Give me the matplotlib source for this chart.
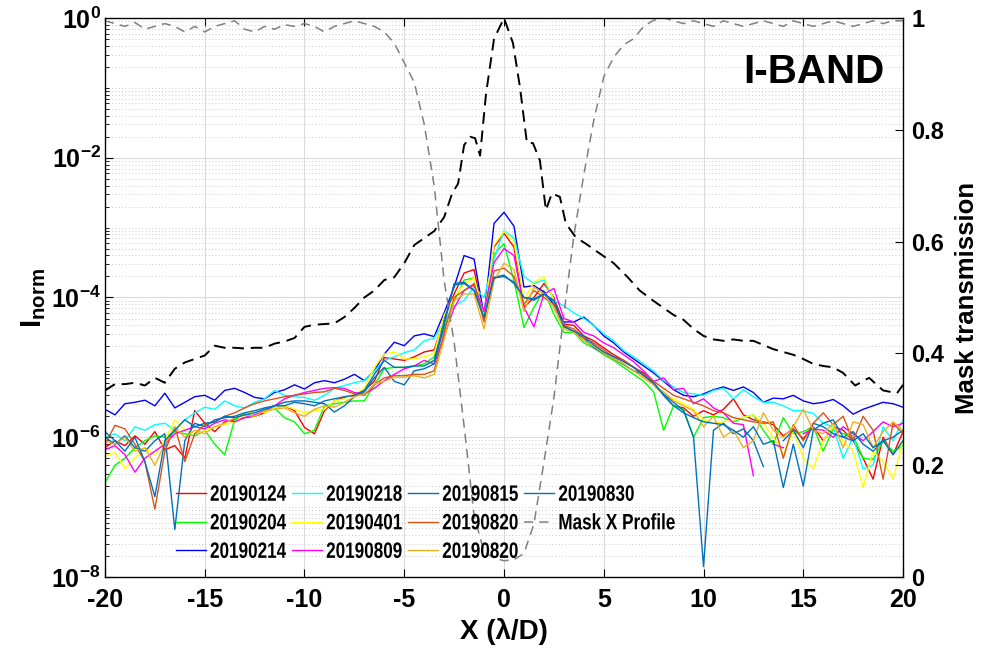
import numpy as np
import matplotlib
matplotlib.use("Agg")
import matplotlib.pyplot as plt
from matplotlib import patheffects
from matplotlib.transforms import Affine2D
from matplotlib.ticker import FixedLocator, LogLocator, NullFormatter

# ---------------------------------------------------------------- data
# sample positions (lambda/D), shared by the measured profiles
x_ld = np.arange(-20.0, 20.01, 0.5)

# log10(I_norm), one list per date (81 samples each)
log_20190124 = [
    -6.15, -6.05, -6.12, -5.98, -6.10, -5.92, -6.18, -6.12, -6.30, -5.62,
    -5.80, -5.92, -5.78, -5.75, -5.72, -5.70, -5.65, -5.58, -5.55, -5.62,
    -5.86, -5.95, -5.62, -5.48, -5.43, -5.40, -5.33, -5.20, -4.86, -4.88,
    -4.90, -4.85, -4.78, -4.75, -4.30, -3.95, -3.65, -3.60, -4.30, -3.28,
    -3.08, -3.28, -4.14, -4.00, -3.80, -4.00, -4.38, -4.40, -4.55, -4.62,
    -4.72, -4.82, -4.90, -5.00, -5.08, -5.22, -5.40, -5.55, -5.58, -5.70,
    -5.62, -5.68, -5.60, -5.45, -5.68, -5.75, -5.78, -5.82, -5.98, -5.88,
    -6.02, -5.85, -6.05, -5.85, -5.90, -6.05, -6.30, -6.60, -6.00, -6.25,
    -5.92]
log_20190204 = [
    -6.65, -6.40, -6.30, -6.15, -6.05, -5.98, -6.00, -5.92, -5.95, -5.98,
    -5.90, -6.10, -6.25, -5.75, -5.66, -5.70, -5.62, -5.58, -5.72, -5.78,
    -5.95, -5.90, -5.55, -5.52, -5.50, -5.48, -5.48, -5.25, -5.02, -5.00,
    -5.00, -4.98, -4.95, -4.85, -4.45, -4.05, -3.75, -3.72, -4.32, -3.38,
    -3.23, -3.76, -4.43, -4.14, -3.90, -4.24, -4.50, -4.50, -4.65, -4.72,
    -4.82, -4.90, -5.00, -5.10, -5.20, -5.35, -5.90, -5.55, -5.60, -6.00,
    -5.72, -5.70, -5.72, -5.78, -5.72, -5.68, -5.90, -6.10, -5.72, -5.95,
    -5.92, -5.85, -6.20, -5.88, -5.95, -5.98, -6.30, -6.32, -6.05, -6.20,
    -6.12]
log_20190214 = [
    -5.60, -5.68, -5.52, -5.50, -5.47, -5.55, -5.37, -5.58, -5.50, -5.42,
    -5.40, -5.47, -5.33, -5.30, -5.36, -5.43, -5.45, -5.36, -5.32, -5.25,
    -5.31, -5.22, -5.19, -5.22, -5.17, -5.10, -5.19, -5.05, -4.81, -4.64,
    -4.69, -4.55, -4.52, -4.56, -4.22, -3.85, -3.40, -3.45, -4.26, -2.94,
    -2.78, -2.98, -3.85, -3.83, -3.92, -4.10, -4.35, -4.35, -4.28, -4.40,
    -4.55, -4.65, -4.78, -4.88, -4.98, -5.08, -5.20, -5.32, -5.40, -5.42,
    -5.38, -5.32, -5.28, -5.33, -5.28, -5.36, -5.50, -5.44, -5.45, -5.40,
    -5.48, -5.52, -5.50, -5.46, -5.55, -5.67, -5.60, -5.55, -5.50, -5.52,
    -5.57]
log_20190218 = [
    -6.00, -5.95, -6.05, -5.85, -5.90, -5.82, -5.80, -5.90, -5.75, -5.65,
    -5.57, -5.60, -5.48, -5.55, -5.58, -5.50, -5.45, -5.33, -5.40, -5.42,
    -5.43, -5.47, -5.40, -5.30, -5.26, -5.22, -5.19, -5.05, -4.90, -4.85,
    -4.79, -4.75, -4.62, -4.58, -4.35, -4.12, -4.04, -3.85, -4.00, -3.45,
    -3.04, -3.15, -3.70, -3.80, -3.75, -4.04, -4.12, -4.22, -4.30, -4.40,
    -4.52, -4.62, -4.76, -4.85, -4.95, -5.05, -5.19, -5.28, -5.36, -5.38,
    -5.40, -5.33, -5.30, -5.45, -5.32, -5.42, -5.50, -5.50, -5.55, -5.62,
    -5.62, -5.66, -5.80, -5.85, -6.30, -6.00, -6.45, -6.40, -5.85, -6.05,
    -5.75]
log_20190401 = [
    -6.27, -6.22, -6.45, -6.30, -6.15, -6.25, -6.05, -5.75, -5.90, -5.95,
    -5.90, -5.85, -5.82, -5.78, -5.68, -5.62, -5.65, -5.58, -5.55, -5.60,
    -5.65, -5.62, -5.60, -5.48, -5.45, -5.38, -5.30, -5.00, -4.81, -4.78,
    -4.88, -4.88, -4.85, -4.80, -4.25, -4.00, -3.80, -3.72, -4.25, -3.25,
    -3.05, -3.20, -4.04, -3.78, -3.70, -4.04, -4.45, -4.48, -4.60, -4.70,
    -4.80, -4.88, -4.95, -5.05, -5.15, -5.25, -5.40, -5.45, -5.52, -5.60,
    -5.75, -5.80, -5.78, -5.75, -5.72, -5.68, -5.80, -6.00, -6.25, -5.90,
    -6.30, -6.45, -6.05, -5.85, -6.05, -6.20, -6.72, -6.20, -6.35, -6.60,
    -6.05]
log_20190809 = [
    -6.18, -6.12, -6.25, -6.50, -6.30, -6.20, -6.10, -5.95, -5.90, -5.85,
    -5.88, -5.80, -5.75, -5.78, -5.72, -5.68, -5.62, -5.55, -5.45, -5.40,
    -5.36, -5.33, -5.30, -5.29, -5.30, -5.36, -5.38, -5.30, -5.19, -5.10,
    -5.02, -4.98, -4.90, -4.95, -4.55, -4.15, -3.90, -3.82, -4.20, -3.50,
    -3.30, -3.40, -4.14, -4.42, -3.95, -3.87, -4.30, -4.35, -4.50, -4.55,
    -4.65, -4.72, -4.82, -4.92, -5.05, -5.20, -5.15, -5.32, -5.30, -5.52,
    -5.45, -5.58, -5.65, -5.80, -5.82, -6.55, np.nan, -6.10, -6.15, np.nan,
    -5.95, -5.88, -5.90, -6.00, -5.85, -5.95, -6.05, -5.92, -5.78, -5.85,
    -5.80]
log_20190815 = [
    -6.00, -6.10, -5.98, -6.15, -6.20, -6.05, -5.95, -7.32, -6.05, -5.80,
    -5.85, -5.75, -5.72, -5.70, -5.65, -5.62, -5.58, -5.55, -5.50, -5.48,
    -5.48, -5.50, -5.52, -5.64, -5.55, -5.42, -5.35, -5.15, -5.00, -5.20,
    -5.25, -5.05, -5.02, -4.95, -4.40, -3.80, -3.78, -3.90, -4.30, -3.71,
    -3.68, -3.80, -4.00, -4.04, -3.95, -4.05, -4.40, -4.50, -4.58, -4.72,
    -4.80, -4.88, -4.96, -5.05, -5.10, -5.25, -5.38, -5.50, -5.62, -6.00,
    -7.85, -5.90, -5.80, -5.95, -5.88, -6.05, -6.42, np.nan, -6.05, -5.90,
    -6.15, -5.80, -5.85, -5.95, -6.00, -5.92, -6.10, -6.20, -6.05, -6.00,
    -5.90]
log_20190820a = [
    -6.10, -5.83, -5.88, -6.10, -6.35, -7.03, -6.20, -5.85, -6.35, -5.95,
    -5.82, -5.78, -5.70, -5.65, -5.58, -5.52, -5.48, -5.45, -5.42, -5.40,
    -5.38, -5.36, -5.35, -5.30, -5.33, -5.38, -5.40, -5.25, -5.15, -5.12,
    -5.12, -5.10, -5.10, -5.05, -4.50, -4.00, -3.90, -3.80, -4.35, -3.62,
    -3.58, -3.70, -4.10, -3.90, -4.00, -4.10, -4.40, -4.45, -4.58, -4.65,
    -4.75, -4.85, -4.90, -5.00, -5.10, -5.20, -5.30, -5.40, -5.45, -5.50,
    -5.55, -5.62, -5.65, -5.72, -5.75, -5.78, -5.80, -5.78, -6.30, -5.82,
    -6.05, -5.80, -5.65, -5.82, -5.70, -6.05, -5.70, -5.90, -6.60, -5.80,
    -5.95]
log_20190820b = [
    -6.05, -6.10, -6.00, -6.20, -6.15, -6.40, -6.10, -5.85, -6.00, -5.90,
    -5.95, -5.85, -5.80, -5.72, -5.68, -5.70, -5.62, -5.60, -5.58, -5.65,
    -5.70, -5.60, -5.55, -5.57, -5.50, -5.42, -5.38, -5.24, -5.20, -5.14,
    -5.14, -5.12, -5.15, -5.10, -4.60, -4.05, -3.95, -3.95, -4.45, -3.76,
    -3.51, -3.60, -4.20, -3.85, -3.95, -4.15, -4.45, -4.50, -4.62, -4.70,
    -4.80, -4.88, -4.95, -5.05, -5.15, -5.25, -5.35, -5.48, -5.55, -5.62,
    -5.85, -5.70, -6.00, -5.90, -6.15, -6.05, -5.65, -5.90, -6.00, -5.85,
    -5.60, -5.90, -5.95, -5.80, -6.15, -5.78, -5.82, -6.15, -5.92, -5.78,
    -5.90]
log_20190830 = [
    -5.92, -6.05, -6.20, -6.00, -6.35, -6.85, -6.05, -5.90, -5.75, -5.85,
    -5.80, -5.78, -5.70, -5.72, -5.68, -5.65, -5.60, -5.55, -5.55, -5.50,
    -5.52, -5.55, -5.48, -5.45, -5.42, -5.40, -5.33, -5.10, -4.90, -5.00,
    -5.00, -4.98, -4.98, -4.90, -4.35, -3.82, -3.80, -3.90, -4.28, -3.72,
    -3.70, -3.78, -4.00, -4.02, -3.95, -4.04, -4.42, -4.48, -4.55, -4.68,
    -4.78, -4.85, -4.92, -5.00, -5.12, -5.22, -5.40, -5.55, -5.65, -5.72,
    -5.78, -5.80, -5.82, -5.90, -6.00, -5.85, -6.10, -6.05, -6.72, -6.10,
    -6.70, -5.90, -5.80, -5.75, -6.00, -6.05, -5.95, -6.15, -6.05, -6.25,
    -6.05]

# mask transmission profile along X (right axis)
mask_profile = [
    0.995, 0.990, 0.985, 0.992, 0.980, 0.985, 0.990, 0.985, 0.975, 0.985,
    0.975, 0.985, 0.990, 0.995, 0.980, 0.975, 0.985, 0.980, 0.988, 0.985,
    0.990, 0.985, 0.975, 0.985, 0.990, 0.995, 0.990, 0.985, 0.975, 0.955,
    0.920, 0.885, 0.810, 0.700, 0.530, 0.420, 0.270, 0.110, 0.045, 0.034,
    0.029, 0.031, 0.042, 0.095, 0.205, 0.320, 0.470, 0.610, 0.720, 0.817,
    0.895, 0.930, 0.952, 0.963, 0.985, 0.996, 1.000, 0.995, 0.990, 0.995,
    0.990, 0.985, 0.995, 0.990, 0.985, 0.990, 0.995, 0.990, 0.985, 0.995,
    0.990, 0.985, 0.990, 0.995, 0.990, 0.985, 0.990, 0.995, 0.990, 0.995,
    0.995]

# off-mask reference profile (black dashed), own sampling
psf_x = [-20, -19.5, -19, -18.5, -18, -17.5, -17, -16.5, -16, -15.5,
         -15, -14.5, -14, -13.5, -13, -12.5, -12, -11.5, -11, -10.5,
         -10, -9.5, -9, -8.5, -8, -7.5, -7, -6.5, -6, -5.5,
         -5, -4.5, -4, -3.5, -3, -2.6, -2.3, -2.0, -1.7, -1.45,
         -1.2, -0.9, -0.5, 0, 0.45, 0.8, 1.15, 1.45, 1.8, 2.1,
         2.4, 2.8, 3.1, 3.6, 4.1, 4.8, 5.5, 6.2, 6.8, 7.5,
         8, 8.5, 9, 9.5, 10, 10.5, 11, 11.5, 12, 12.5,
         13, 13.5, 14, 14.5, 15, 15.5, 16, 16.5, 17, 17.6,
         18.3, 19, 19.7, 20]
log_psf = [-5.33, -5.24, -5.24, -5.22, -5.26, -5.15, -5.22, -5.02, -4.93, -4.88,
           -4.83, -4.69, -4.72, -4.72, -4.73, -4.72, -4.72, -4.66, -4.63, -4.58,
           -4.42, -4.39, -4.38, -4.37, -4.28, -4.15, -4.00, -3.90, -3.75, -3.71,
           -3.51, -3.25, -3.15, -3.05, -2.85, -2.51, -2.37, -1.82, -1.70, -1.72,
           -1.97, -1.08, -0.30, 0.00, -0.36, -0.99, -1.79, -1.79, -2.04, -2.75,
           -2.51, -2.56, -2.94, -3.14, -3.23, -3.37, -3.51, -3.71, -3.90, -4.05,
           -4.15, -4.25, -4.32, -4.45, -4.55, -4.60, -4.62, -4.60, -4.62, -4.62,
           -4.68, -4.74, -4.78, -4.82, -4.88, -4.95, -4.98, -5.00, -5.08, -5.26,
           -5.15, -5.33, -5.37, -5.25]

series_labels = ["20190124", "20190204", "20190214", "20190218", "20190401",
                 "20190809", "20190815", "20190820", "20190820", "20190830"]
series_logs = [log_20190124, log_20190204, log_20190214, log_20190218, log_20190401,
               log_20190809, log_20190815, log_20190820a, log_20190820b, log_20190830]
series_colors = [(1, 0, 0), (0, 1, 0), (0, 0, 1), (0, 1, 1), (1, 1, 0),
                 (1, 0, 1), (0, 0.447, 0.741), (0.85, 0.325, 0.098),
                 (0.929, 0.694, 0.125), (0.0, 0.447, 0.741)]


class HSqueeze(patheffects.AbstractPathEffect):
    # narrow glyphs horizontally (legend font in the original is condensed)
    def __init__(self, sx):
        super().__init__()
        self.sx = sx

    def draw_path(self, renderer, gc, tpath, affine, rgbFace=None):
        renderer.draw_path(gc, tpath, Affine2D().scale(self.sx, 1.0) + affine, rgbFace)


# ---------------------------------------------------------------- style
plt.rcParams["font.family"] = ["Liberation Sans", "DejaVu Sans"]
plt.rcParams["font.weight"] = "bold"
plt.rcParams["axes.unicode_minus"] = False
plt.rcParams["mathtext.fontset"] = "custom"
plt.rcParams["mathtext.rm"] = "Liberation Sans:bold"
plt.rcParams["mathtext.bf"] = "Liberation Sans:bold"
plt.rcParams["mathtext.it"] = "Liberation Sans:bold"

fig = plt.figure(figsize=(9.84, 6.57), dpi=100)
ax = fig.add_axes([0.1067, 0.1218, 0.8110, 0.8508])

handles = []
for lab, lg, col in zip(series_labels, series_logs, series_colors):
    h, = ax.plot(x_ld, np.power(10.0, np.array(lg, dtype=float)), color=col, lw=1.0, label=lab)
    handles.append(h)

ax.plot(psf_x, np.power(10.0, np.array(log_psf)), color="k", lw=1.4, ls=(0, (6, 3.5)))

ax.set_yscale("log")
ax.set_xlim(-20, 20)
ax.set_ylim(1e-8, 1)
ax.set_xticks([-20, -15, -10, -5, 0, 5, 10, 15, 20])
ax.set_xticklabels(["-20", "-15", "-10", "-5", "0", "5", "10", "15", "20"])
ax.yaxis.set_major_locator(FixedLocator([1e-8, 1e-6, 1e-4, 1e-2, 1]))
ax.set_yticklabels([r"$\mathbf{10^{-8}}$", r"$\mathbf{10^{-6}}$", r"$\mathbf{10^{-4}}$",
                    r"$\mathbf{10^{-2}}$", r"$\mathbf{10^{0}}$"])
ax.yaxis.set_minor_locator(LogLocator(base=10, subs=np.arange(1, 10), numticks=20))
ax.yaxis.set_minor_formatter(NullFormatter())

ax.grid(which="major", color="0.86", lw=0.8, ls="-")
ax.yaxis.grid(which="minor", color="0.72", lw=0.6, ls=(0, (1, 3)))
ax.set_axisbelow(True)

ax.tick_params(which="both", direction="in", top=True, right=False)
ax.tick_params(axis="x", labelsize=18, pad=8)
ax.tick_params(axis="y", labelsize=18, pad=3)
ax.tick_params(which="major", length=6, width=0.8)
ax.tick_params(which="minor", length=3, width=0.6)
for s in ax.spines.values():
    s.set_linewidth(0.9)

ax.set_xlabel("X (λ/D)", fontsize=20, fontweight="bold", labelpad=4)
ax.set_ylabel(r"$\mathbf{I_{norm}}$", fontsize=21, labelpad=2)

ax2 = ax.twinx()
mh, = ax2.plot(x_ld, mask_profile, color=(0.5, 0.5, 0.5), lw=1.1, ls=(0, (6, 4)),
               label="Mask X Profile")
handles.append(mh)
ax2.set_ylim(0, 1)
ax2.set_yticks([0, 0.2, 0.4, 0.6, 0.8, 1.0])
ax2.set_yticklabels(["0", "0.2", "0.4", "0.6", "0.8", "1"])
ax2.tick_params(direction="in", length=6, width=0.8, labelsize=17, pad=6)
ax2.set_ylabel("Mask transmission", fontsize=18.5, fontweight="bold", labelpad=8)

ax2.text(0.977, 0.884, "I-BAND", transform=ax2.transAxes, ha="right", va="baseline",
         fontsize=29, fontweight="bold")

leg = ax2.legend(handles=handles, ncol=4, loc="upper left",
                 bbox_to_anchor=(0.089, 0.165), frameon=False, borderpad=0,
                 borderaxespad=0, handlelength=1.35, handletextpad=0.18,
                 columnspacing=-0.76, labelspacing=0.34,
                 prop={"weight": "bold", "size": 16})
for t in leg.get_texts():
    t.set_path_effects([HSqueeze(0.77)])

fig.savefig("out.png", dpi=100, facecolor="white")
